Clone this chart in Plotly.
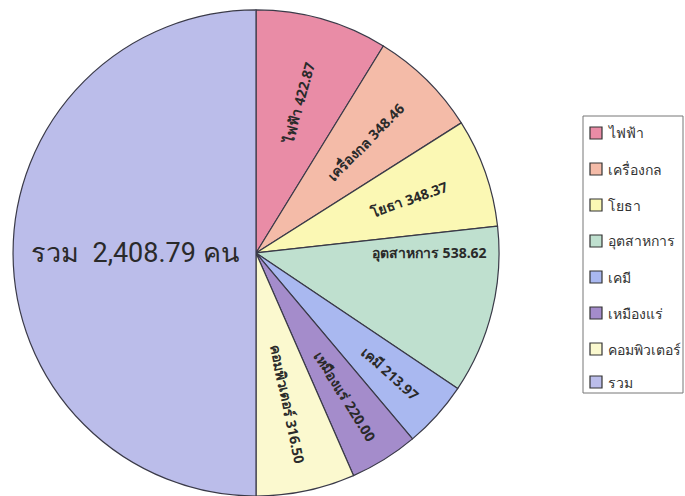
import plotly.graph_objects as go

# Engineering fields and headcounts
labels = ["ไฟฟ้า", "เครื่องกล", "โยธา", "อุตสาหการ", "เคมี", "เหมืองแร่", "คอมพิวเตอร์", "รวม"]
values = [422.87, 348.46, 348.37, 538.62, 213.97, 220.00, 316.50, 2408.79]
colors = ["#E98CA6", "#F4BBA8", "#FBF8B4", "#BFE0CF", "#A9B8F0", "#A48CCB", "#FBF9CF", "#BBBDEA"]

slice_text = [f"<b>{l} {v:.2f}</b>" for l, v in zip(labels[:-1], values[:-1])]
slice_text.append(f"{labels[-1]}  {values[-1]:,.2f} คน")
text_sizes = [14] * (len(labels) - 1) + [27]
text_fonts = ["Noto Sans, sans-serif"] * (len(labels) - 1) + ["Roboto, Noto Sans, sans-serif"]

fig = go.Figure(go.Pie(
    labels=labels,
    values=values,
    text=slice_text,
    textinfo="text",
    sort=False,
    direction="clockwise",
    rotation=0,
    marker=dict(colors=colors, line=dict(color="#3a3a48", width=1.2)),
    insidetextorientation="radial",
    textposition="inside",
    textfont=dict(size=text_sizes, color="#2a2a2a", family=text_fonts),
    hoverinfo="label+value",
    showlegend=False,
    domain=dict(x=[12 / 685, 500 / 685], y=[0.0, 0.98]),
))

# Legend panel on the right
lx0, lx1, ly_top, ly_bot = 583, 683, 116, 393
shapes = [dict(type="rect", xref="paper", yref="paper",
               x0=lx0 / 685, x1=lx1 / 685, y0=1 - ly_bot / 496, y1=1 - ly_top / 496,
               line=dict(color="#777777", width=1), fillcolor="white")]
annotations = []
row_y = [133, 169, 205, 241, 277, 313, 349, 382]
for lab, col, yy in zip(labels, colors, row_y):
    shapes.append(dict(type="rect", xref="paper", yref="paper",
                       x0=590 / 685, x1=602 / 685,
                       y0=1 - (yy + 6) / 496, y1=1 - (yy - 6) / 496,
                       line=dict(color="#333333", width=1.2), fillcolor=col))
    annotations.append(dict(x=606 / 685, y=1 - yy / 496, xref="paper", yref="paper",
                            text=lab, showarrow=False, xanchor="left", yanchor="middle",
                            font=dict(size=14, color="#333333", family="Noto Sans, sans-serif")))

fig.update_layout(
    width=685, height=496,
    margin=dict(l=0, r=0, t=0, b=0),
    paper_bgcolor="white",
    plot_bgcolor="white",
    shapes=shapes,
    annotations=annotations,
)

fig.write_html("out.html")
